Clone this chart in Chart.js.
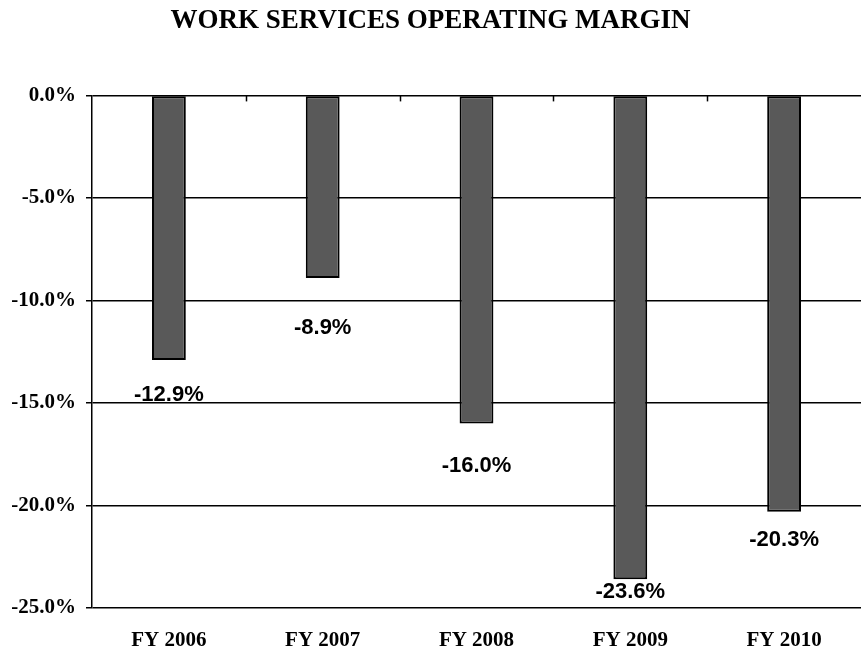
<!DOCTYPE html>
<html>
<head>
<meta charset="utf-8">
<script src="https://cdn.jsdelivr.net/npm/chart.js@4/dist/chart.umd.min.js"></script>
<style>
  html, body { margin:0; padding:0; background:#fff; }
  #wrap { width:861px; height:660px; }
</style>
</head>
<body>
<div id="wrap"><canvas id="marginChart"></canvas></div>
<script>
const years = ['FY 2006','FY 2007','FY 2008','FY 2009','FY 2010'];
const margins = [-12.9, -8.9, -16.0, -23.6, -20.3];
const yTicks = [0, -5, -10, -15, -20, -25];

// how far below each bar end the value label sits (px), as placed in the original
const labelDrop = [35, 50, 42, 13, 28];

const serif = '"Liberation Serif", "Times New Roman", serif';

const valueLabels = {
  id:'valueLabels',
  afterDatasetsDraw(chart){
    const ctx = chart.ctx;
    const meta = chart.getDatasetMeta(0);
    const x = chart.scales.x, area = chart.chartArea;
    ctx.save();
    // little category tick marks hanging off the 0% line
    ctx.strokeStyle = '#000';
    ctx.lineWidth = 1.5;
    for(let i=1;i<years.length;i++){
      const px = Math.round((x.getPixelForValue(i-1)+x.getPixelForValue(i))/2)+0.5;
      ctx.beginPath();
      ctx.moveTo(px, area.top);
      ctx.lineTo(px, area.top+6);
      ctx.stroke();
    }
    ctx.font = 'bold 22px "Liberation Sans", Arial, sans-serif';
    ctx.fillStyle = '#000';
    ctx.textAlign = 'center';
    ctx.textBaseline = 'middle';
    meta.data.forEach((bar,i)=>{
      ctx.fillText(margins[i].toFixed(1)+'%', bar.x, bar.y + labelDrop[i]);
    });
    ctx.restore();
  }
};

new Chart(document.getElementById('marginChart').getContext('2d'), {
  type:'bar',
  data:{
    labels: years,
    datasets:[{
      data: margins,
      backgroundColor:'#595959',
      borderColor:'#000',
      borderWidth:2,
      borderSkipped:false,
      barPercentage:0.22,
      categoryPercentage:1
    }]
  },
  options:{
    responsive:true,
    maintainAspectRatio:false,
    animation:false,
    layout:{ padding:{ left:0, right:0, top:0, bottom:0 } },
    plugins:{
      legend:{ display:false },
      tooltip:{ enabled:false },
      title:{
        display:true,
        text:'WORK SERVICES OPERATING MARGIN',
        color:'#000',
        font:{ family:serif, size:27, weight:'bold' },
        padding:{ top:5, bottom:58 }
      }
    },
    scales:{
      x:{
        grid:{ display:false, drawTicks:false },
        border:{ display:false },
        ticks:{
          color:'#000',
          padding:20,
          font:{ family:serif, size:21, weight:'bold' }
        },
        afterFit(s){ s.height = 52; }
      },
      y:{
        min:-25, max:0,
        afterBuildTicks(s){ s.ticks = yTicks.map(v=>({ value:v })); },
        grid:{ color:'#000', lineWidth:1.5, tickLength:6 },
        border:{ color:'#000', width:1.5 },
        ticks:{
          color:'#000',
          padding:10,
          callback:v=>v.toFixed(1)+'%',
          font:{ family:serif, size:21, weight:'bold' }
        },
        afterFit(s){ s.width = 92; }
      }
    }
  },
  plugins:[valueLabels]
});
</script>
</body>
</html>
